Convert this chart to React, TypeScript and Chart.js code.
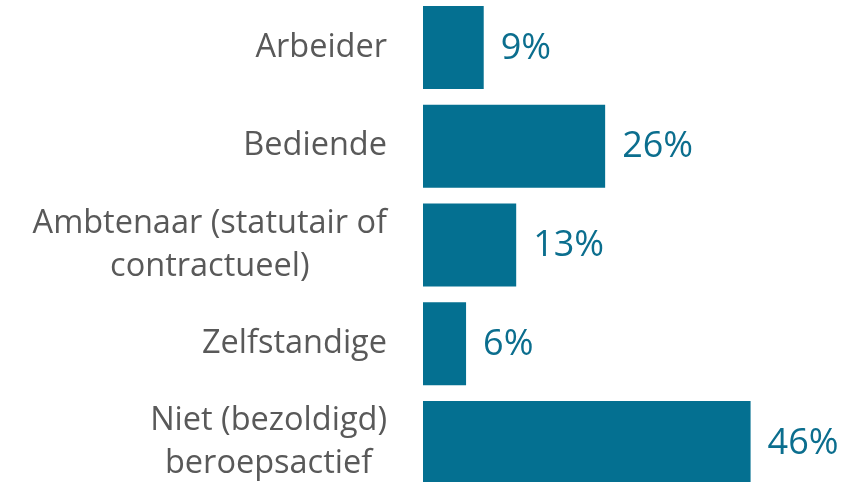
import React, { useEffect, useRef } from "react";
import { Chart, registerables } from "chart.js";

Chart.register(...registerables);

const categories: (string | string[])[] = [
  "Arbeider",
  "Bediende",
  ["Ambtenaar (statutair of", "contractueel)"],
  "Zelfstandige",
  ["Niet (bezoldigd)", "beroepsactief"],
];
const values: number[] = [8.6, 25.8, 13.2, 6.1, 46.4];
const valueLabels: string[] = ["9%", "26%", "13%", "6%", "46%"];

const BAR_COLOR = "#047091";
const VALUE_COLOR = "#0B6E8E";
const TEXT_COLOR = "#595959";
const FONT = "'Open Sans', sans-serif";

const valueLabelPlugin = {
  id: "valueLabels",
  afterDatasetsDraw(chart: any) {
    const ctx = chart.ctx;
    const meta = chart.getDatasetMeta(0);
    ctx.save();
    ctx.fillStyle = VALUE_COLOR;
    ctx.font = `36px ${FONT}`;
    ctx.textAlign = "left";
    ctx.textBaseline = "middle";
    meta.data.forEach((bar: any, i: number) => {
      ctx.fillText(valueLabels[i], bar.x + 17, bar.y + 1);
    });
    ctx.restore();
  },
};

const categoryLabelPlugin = {
  id: "categoryLabels",
  afterDraw(chart: any) {
    const ctx = chart.ctx;
    const yScale = chart.scales.y;
    const rightEdge = chart.chartArea.left - 36;
    const lineH = 43;
    ctx.save();
    ctx.fillStyle = TEXT_COLOR;
    ctx.font = `32.5px ${FONT}`;
    ctx.textBaseline = "middle";
    ctx.textAlign = "center";
    categories.forEach((cat, i) => {
      const lines = Array.isArray(cat) ? cat : [cat];
      const maxW = Math.max(...lines.map((l) => ctx.measureText(l).width));
      const cx = rightEdge - maxW / 2;
      const cy = yScale.getPixelForValue(i);
      const startY = cy - ((lines.length - 1) * lineH) / 2;
      lines.forEach((l, j) => ctx.fillText(l, cx, startY + j * lineH));
    });
    ctx.restore();
  },
};

export default function App() {
  const ref = useRef<HTMLCanvasElement>(null);
  useEffect(() => {
    if (!ref.current) return;
    const chart = new Chart(ref.current, {
      type: "bar",
      data: {
        labels: categories,
        datasets: [
          {
            data: values,
            backgroundColor: BAR_COLOR,
            borderWidth: 0,
            barPercentage: 0.84,
            categoryPercentage: 1,
          },
        ],
      },
      options: {
        indexAxis: "y",
        animation: false,
        responsive: true,
        maintainAspectRatio: false,
        layout: { padding: { left: 423, right: 88, top: 0, bottom: 0 } },
        plugins: { legend: { display: false }, tooltip: { enabled: false } },
        scales: {
          x: { display: false, min: 0, max: 50 },
          y: { display: false },
        },
      },
      plugins: [valueLabelPlugin, categoryLabelPlugin],
    });
    return () => chart.destroy();
  }, []);
  return (
    <div style={{ position: "absolute", left: 0, top: -2, width: 864, height: 494 }}>
      <canvas ref={ref} />
    </div>
  );
}
